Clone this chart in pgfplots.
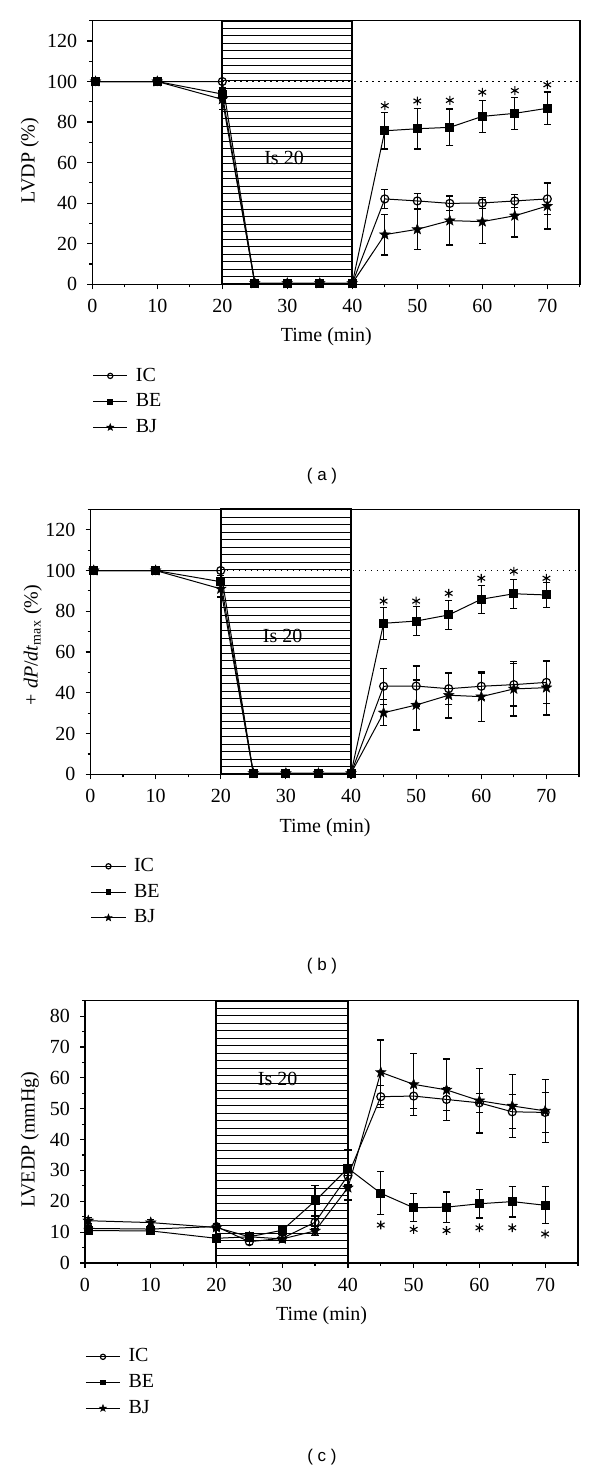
\documentclass[border=0pt]{standalone}
\usepackage{fontspec}
\setmainfont{Liberation Serif}
\newfontfamily\capfont{Liberation Sans}
\usepackage{pgfplots}
\pgfplotsset{compat=1.18}

\pgfdeclareplotmark{fstar}{%
  \pgfpathmoveto{\pgfpointpolar{90}{\pgfplotmarksize}}%
  \pgfpathlineto{\pgfpointpolar{126}{0.42\pgfplotmarksize}}%
  \pgfpathlineto{\pgfpointpolar{162}{\pgfplotmarksize}}%
  \pgfpathlineto{\pgfpointpolar{198}{0.42\pgfplotmarksize}}%
  \pgfpathlineto{\pgfpointpolar{234}{\pgfplotmarksize}}%
  \pgfpathlineto{\pgfpointpolar{270}{0.42\pgfplotmarksize}}%
  \pgfpathlineto{\pgfpointpolar{306}{\pgfplotmarksize}}%
  \pgfpathlineto{\pgfpointpolar{342}{0.42\pgfplotmarksize}}%
  \pgfpathlineto{\pgfpointpolar{18}{\pgfplotmarksize}}%
  \pgfpathlineto{\pgfpointpolar{54}{0.42\pgfplotmarksize}}%
  \pgfpathclose
  \pgfusepathqfillstroke
}

\newcommand{\fs}{\fontsize{10}{12}\selectfont}

\pgfplotsset{
  myaxis/.style={
    scale only axis,
    anchor=south west,
    clip=false,
    xmin=0, xmax=75,
    xtick={0,10,...,70},
    minor xtick={5,15,...,75},
    tick pos=left,
    tick align=outside,
    major tick length=2.5pt,
    minor tick length=1.5pt,
    axis line style={line width=0.75pt},
    every tick/.style={black, line width=0.6pt},
    /pgf/number format/assume math mode=true,
    tick label style={font=\fs},
    xticklabel style={yshift=-1.5pt},
    yticklabel style={xshift=-1.5pt},
    label style={font=\fs},
    xlabel={Time (min)},
    xlabel style={at={(axis description cs:0.48,-0.2)}, anchor=center},
    legend style={font=\fs, draw=none, fill=none, anchor=north west,
      legend cell align=left, row sep=0.8pt, inner sep=0pt,
      /tikz/every odd column/.append style={column sep=2pt}},
  },
  ebar/.style={forget plot, draw=none, mark=none,
    error bars/.cd, y dir=both, y explicit,
    error bar style={draw=black, line width=0.6pt, solid},
    error mark options={draw=black, mark size=1.8pt, line width=0.6pt, rotate=90}},
  ic/.style={black, line width=0.5pt, mark=o, mark size=2pt,
    mark options={fill=white, line width=0.6pt}},
  be/.style={black, line width=0.5pt, mark=square*, mark size=2pt},
  bj/.style={black, line width=0.5pt, mark=fstar, mark size=2.8pt,
    mark options={line width=0.2pt}},
  icl/.style={ic, mark size=1.3pt},
  bel/.style={be, mark size=1.2pt},
  bjl/.style={bj, mark size=1.9pt},
  ast/.style={forget plot, only marks, mark=asterisk, mark size=2.2pt,
    mark options={line width=0.55pt}, black},
  dotl/.style={forget plot, black, line width=0.6pt, dash pattern=on 0.6pt off 2.4pt},
}

\begin{document}
\begin{tikzpicture}[x=1pt,y=1pt]
\path[use as bounding box] (0,0) rectangle (300,735);

%==================== (a) ====================
\begin{axis}[myaxis,
  at={(46.15pt,592.85pt)}, width=243.75pt, height=131.8pt,
  ymin=0, ymax=130, ytick={0,20,...,120}, minor ytick={10,30,...,130},
  ylabel={LVDP (\%)},
  ylabel style={at={(axis description cs:-0.128,0.47)}, anchor=center},
  legend style={at={(axis description cs:0.0,-0.3)}},
]
\pgfplotsinvokeforeach{1,...,34}{\draw[line width=0.45pt] (axis cs:20,{#1*130/35}) -- (axis cs:40,{#1*130/35});}
\draw[line width=1pt] (axis cs:20,0) rectangle (axis cs:40,130);
\node[font=\fs] at (axis cs:29.5,62.4) {Is 20};
\addplot[dotl] coordinates {(20,100) (75,100)};

\addplot[ebar] coordinates {(45,42.1)+-(0,4.6) (50,41.1)+-(0,3.8) (55,39.9)+-(0,3.6) (60,40.1)+-(0,2.6) (65,41.1)+-(0,3.1) (70,42.1)+-(0,7.7)};
\addplot[ebar] coordinates {(20,93.8)+-(0,3) (45,75.7)+-(0,9) (50,76.7)+-(0,10) (55,77.4)+-(0,9) (60,82.8)+-(0,8) (65,84.3)+-(0,7.9) (70,86.8)+-(0,8)};
\addplot[ebar] coordinates {(20,91.2)+-(0,5) (45,24.5)+-(0,10.1) (50,27.1)+-(0,10) (55,31.4)+-(0,12) (60,30.9)+-(0,10.9) (65,33.8)+-(0,10.5) (70,38.6)+-(0,11.3)};

\addplot[be, forget plot] coordinates {(0.5,100) (10,100) (20,93.8) (25,0.5) (30,0.5) (35,0.5) (40,0.5) (45,75.7) (50,76.7) (55,77.4) (60,82.8) (65,84.3) (70,86.8)};
\addplot[bj, forget plot] coordinates {(0.5,100) (10,100) (20,91.2) (25,0.5) (30,0.5) (35,0.5) (40,0.5) (45,24.5) (50,27.1) (55,31.4) (60,30.9) (65,33.8) (70,38.6)};
\addplot[ic, forget plot] coordinates {(0.5,100) (10,100) (20,100) (25,0.5) (30,0.5) (35,0.5) (40,0.5) (45,42.1) (50,41.1) (55,39.9) (60,40.1) (65,41.1) (70,42.1)};
\addplot[ast] coordinates {(45,88.1) (50,90.4) (55,90.7) (60,94.7) (65,95.5) (70,98.4)};
\addlegendimage{icl}\addlegendentry{IC}
\addlegendimage{bel}\addlegendentry{BE}
\addlegendimage{bjl}\addlegendentry{BJ}
\end{axis}

%==================== (b) ====================
\begin{axis}[myaxis,
  at={(45.25pt,347.85pt)}, width=244.25pt, height=132.45pt,
  ymin=0, ymax=130, ytick={0,20,...,120}, minor ytick={10,30,...,130},
  ylabel={+ \textit{dP}/\textit{dt}\textsubscript{max} (\%)},
  ylabel style={at={(axis description cs:-0.118,0.488)}, anchor=center},
  legend style={at={(axis description cs:0.0,-0.3)}},
]
\pgfplotsinvokeforeach{1,...,34}{\draw[line width=0.45pt] (axis cs:20,{#1*130/35}) -- (axis cs:40,{#1*130/35});}
\draw[line width=1pt] (axis cs:20,0) rectangle (axis cs:40,130);
\node[font=\fs] at (axis cs:29.5,68) {Is 20};
\addplot[dotl] coordinates {(20,100) (75,100)};

\addplot[ebar] coordinates {(45,43.2)+-(0,8.8) (50,43.3)+-(0,9.8) (55,42)+-(0,7.7) (60,43.2)+-(0,6.5) (65,44)+-(0,10.5) (70,45.1)+-(0,10.2)};
\addplot[ebar] coordinates {(20,94.5)+-(0,3) (45,74.1)+-(0,7.8) (50,75.2)+-(0,7) (55,78.2)+-(0,7) (60,85.9)+-(0,6.9) (65,88.6)+-(0,7.1) (70,88.0)+-(0,6)};
\addplot[ebar] coordinates {(20,91)+-(0,4) (45,30.2)+-(0,6.4) (50,34)+-(0,12.3) (55,38.8)+-(0,11.2) (60,38.1)+-(0,12.1) (65,41.9)+-(0,13.3) (70,42.5)+-(0,13.4)};

\addplot[be, forget plot] coordinates {(0.5,100) (10,100) (20,94.5) (25,0.5) (30,0.5) (35,0.5) (40,0.5) (45,74.1) (50,75.2) (55,78.2) (60,85.9) (65,88.6) (70,88.0)};
\addplot[bj, forget plot] coordinates {(0.5,100) (10,100) (20,91) (25,0.5) (30,0.5) (35,0.5) (40,0.5) (45,30.2) (50,34) (55,38.8) (60,38.1) (65,41.9) (70,42.5)};
\addplot[ic, forget plot] coordinates {(0.5,100) (10,100) (20,100) (25,0.5) (30,0.5) (35,0.5) (40,0.5) (45,43.2) (50,43.3) (55,42) (60,43.2) (65,44) (70,45.1)};
\addplot[ast] coordinates {(45,85) (50,85) (55,88.8) (60,96.2) (65,99.6) (70,96.2)};
\addlegendimage{icl}\addlegendentry{IC}
\addlegendimage{bel}\addlegendentry{BE}
\addlegendimage{bjl}\addlegendentry{BJ}
\end{axis}

%==================== (c) ====================
\begin{axis}[myaxis,
  at={(42.5pt,103.5pt)}, width=246.5pt, height=131.15pt,
  ymin=0, ymax=85, ytick={0,10,...,80}, minor ytick={5,15,...,85},
  ylabel={LVEDP (mmHg)},
  ylabel style={at={(axis description cs:-0.112,0.47)}, anchor=center},
  legend style={at={(axis description cs:0.0,-0.31)}},
]
\pgfplotsinvokeforeach{1,...,34}{\draw[line width=0.45pt] (axis cs:20,{#1*85/35}) -- (axis cs:40,{#1*85/35});}
\draw[line width=1pt] (axis cs:20,0) rectangle (axis cs:40,85);
\node[font=\fs] at (axis cs:29.3,59.6) {Is 20};

\addplot[ebar] coordinates {(0.5,11.2)+-(0,1) (10,11)+-(0,1) (20,11.8)+-(0,1) (25,6.9)+-(0,1) (30,8)+-(0,1) (35,13.2)+-(0,2) (40,28.3)+-(0,3) (45,53.9)+-(0,3.5) (50,54.1)+-(0,4) (55,53)+-(0,3.7) (60,51.9)+-(0,3.1) (65,49)+-(0,5.5) (70,48.8)+-(0,6.4)};
\addplot[ebar] coordinates {(0.5,10.5)+-(0,1) (10,10.4)+-(0,1) (20,8)+-(0,1) (25,8.5)+-(0,1.5) (30,10.6)+-(0,1) (35,20.1)+-(0,4.9) (40,30.7)+-(0,5.9) (45,22.6)+-(0,7) (50,17.9)+-(0,4.5) (55,18.1)+-(0,4.9) (60,19.2)+-(0,4.6) (65,19.9)+-(0,5) (70,18.7)+-(0,6)};
\addplot[ebar] coordinates {(0.5,13.7)+-(0,1) (10,13.1)+-(0,1) (20,11.5)+-(0,1) (25,8.5)+-(0,1) (30,7.8)+-(0,1) (35,10.4)+-(0,1.5) (40,24.4)+-(0,4) (45,61.8)+-(0,10.5) (50,57.9)+-(0,10) (55,56.1)+-(0,10) (60,52.6)+-(0,10.5) (65,50.9)+-(0,10.3) (70,49.3)+-(0,10.2)};

\addplot[be, forget plot] coordinates {(0.5,10.5) (10,10.4) (20,8) (25,8.5) (30,10.6) (35,20.1) (40,30.7) (45,22.6) (50,17.9) (55,18.1) (60,19.2) (65,19.9) (70,18.7)};
\addplot[bj, forget plot] coordinates {(0.5,13.7) (10,13.1) (20,11.5) (25,8.5) (30,7.8) (35,10.4) (40,24.4) (45,61.8) (50,57.9) (55,56.1) (60,52.6) (65,50.9) (70,49.3)};
\addplot[ic, forget plot] coordinates {(0.5,11.2) (10,11) (20,11.8) (25,6.9) (30,8) (35,13.2) (40,28.3) (45,53.9) (50,54.1) (55,53) (60,51.9) (65,49) (70,48.8)};
\addplot[ast] coordinates {(45,12.3) (50,10.9) (55,10.5) (60,11.4) (65,11.4) (70,9.4)};
\addlegendimage{icl}\addlegendentry{IC}
\addlegendimage{bel}\addlegendentry{BE}
\addlegendimage{bjl}\addlegendentry{BJ}
\end{axis}

\node[font=\capfont\fontsize{8.5}{10}\selectfont] at (161,497) {( a )};
\node[font=\capfont\fontsize{8.5}{10}\selectfont] at (161,252) {( b )};
\node[font=\capfont\fontsize{8.5}{10}\selectfont] at (161,6.5) {( c )};
\end{tikzpicture}
\end{document}
